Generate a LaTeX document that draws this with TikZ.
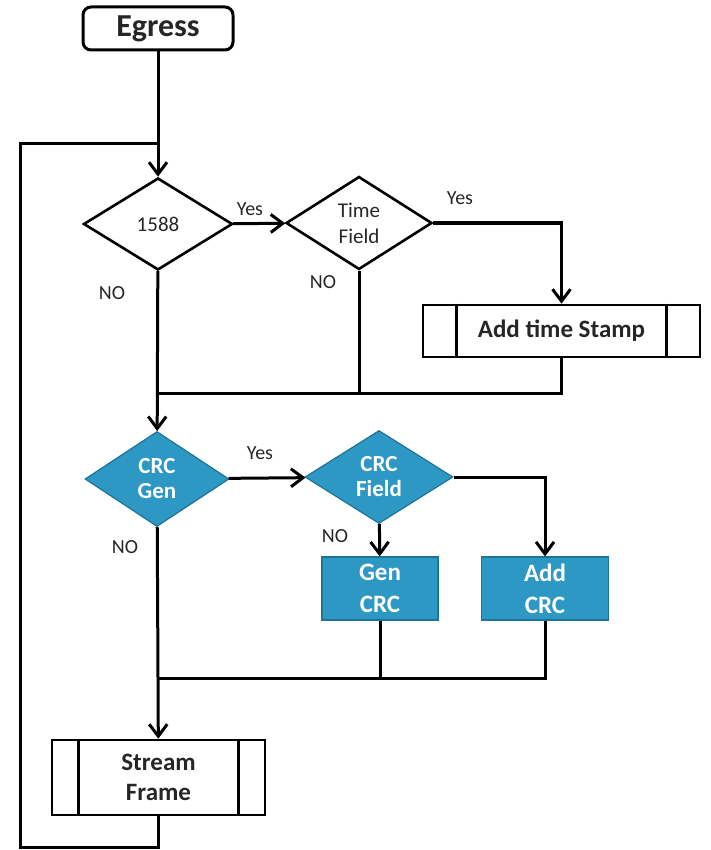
\documentclass[tikz,border=0pt]{standalone}
\usepackage{fontspec}
\setsansfont{Carlito}
\usetikzlibrary{arrows.meta, positioning, shapes.geometric, calc}
\definecolor{crcblue}{RGB}{46,152,196}
\definecolor{crcedge}{RGB}{30,115,152}
\definecolor{ink}{RGB}{38,38,38}

\begin{document}
\begin{tikzpicture}[
  x=0.5pt, y=-0.5pt,
  font=\sffamily, line width=1.5pt,
  flow/.style={-{Straight Barb[length=6pt,width=9pt]}},
  start/.style={
    draw, rounded corners=4pt, minimum width=75pt, minimum height=21.5pt,
    text=ink, font=\sffamily\bfseries\fontsize{16}{18}\selectfont
  },
  ask/.style={
    diamond, draw, line width=1.3pt, inner sep=0pt, align=center, text=ink,
    font=\sffamily\fontsize{10.5}{13}\selectfont
  },
  blueask/.style={
    ask, draw=crcedge, line width=0.6pt, fill=crcblue, text=white,
    font=\sffamily\bfseries\fontsize{11.5}{12.5}\selectfont
  },
  bluebox/.style={
    draw=crcedge, line width=0.6pt, fill=crcblue, text=white, align=center,
    minimum height=31.5pt, inner sep=0pt,
    font=\sffamily\bfseries\fontsize{12.5}{16}\selectfont
  },
  subproc/.style={
    draw, line width=1.3pt, align=center, inner sep=0pt, text=ink,
    font=\sffamily\bfseries\fontsize{12.5}{15}\selectfont
  },
  lbl/.style={text=ink, inner sep=1pt, font=\sffamily\fontsize{10}{12}\selectfont}
]
  \useasboundingbox (0,0) rectangle (711,850);

  % nodes
  \node[start] (egress) at (158,28.5) {Egress};
  \node[ask, minimum width=74.5pt, minimum height=46pt] (d1588) at (158,224) {1588};
  \node[ask, minimum width=73pt, minimum height=46.5pt] (timefield) at (359,223) {Time\\Field};
  \node[subproc, minimum width=138.5pt, minimum height=26pt] (stamp) at (561.5,331) {Add time Stamp};
  \node[blueask, minimum width=72pt, minimum height=47.5pt] (crcgen) at (157,479) {CRC\\Gen};
  \node[blueask, minimum width=74pt, minimum height=46.5pt] (crcfield) at (379,477) {CRC\\Field};
  \node[bluebox, minimum width=58pt] (gencrc) at (380,588.5) {Gen\\CRC};
  \node[bluebox, minimum width=63.5pt] (addcrc) at (545,588.5) {Add\\CRC};
  \node[subproc, minimum width=106.5pt, minimum height=37.5pt] (frame) at (158.5,777.5) {Stream\\Frame};

  % side bars of the sub-process boxes
  \foreach \n/\d in {stamp/17.5pt, frame/14pt} {
    \draw[line width=1.3pt] ([xshift=\d]\n.north west) -- ([xshift=\d]\n.south west);
    \draw[line width=1.3pt] ([xshift=-\d]\n.north east) -- ([xshift=-\d]\n.south east);
  }

  % join points
  \coordinate (m1) at (158,393);
  \coordinate (m2) at (158,678);
  \coordinate (lp) at (20,847);
  \coordinate (lt) at (20,144);

  % connectors
  \draw[flow] (egress) -- (d1588);
  \draw (frame.south) |- (lp) -- (lt) -- (lt -| egress.south);
  \draw[flow] (d1588) -- (timefield);
  \draw[flow] (timefield.east) -| (stamp.north);
  \draw (stamp.south) |- (m1);
  \draw (timefield.south) -- (timefield.south |- m1);
  \draw[flow] (d1588) -- (crcgen);
  \draw[flow] (crcgen) -- (crcfield);
  \draw[flow] (crcfield) -- (gencrc);
  \draw[flow] (crcfield.east) -| (addcrc.north);
  \draw (addcrc.south) |- (m2);
  \draw (gencrc.south) -- (gencrc.south |- m2);
  \draw[flow] (crcgen) -- (frame);

  % branch labels
  \node[lbl] (yes1) at (250,209) {Yes};
  \node[lbl] (yes2) at (460,198) {Yes};
  \node[lbl] (yes3) at (260,453) {Yes};
  \node[lbl] (no1) at (112,293) {NO};
  \node[lbl] (no2) at (323,282) {NO};
  \node[lbl] (no3) at (125,547) {NO};
  \node[lbl] (no4) at (335,536) {NO};
\end{tikzpicture}
\end{document}
